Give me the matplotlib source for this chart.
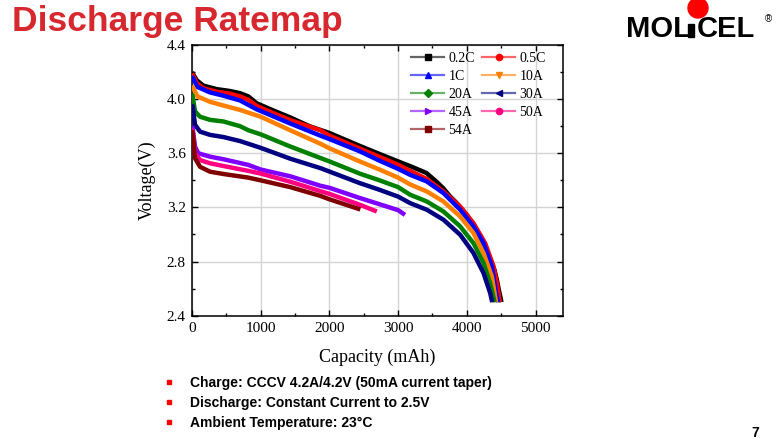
import matplotlib
matplotlib.use("Agg")
import matplotlib.pyplot as plt
from matplotlib.colors import to_rgba
from matplotlib.lines import Line2D
from matplotlib.patches import Circle, Rectangle
from matplotlib.ticker import MultipleLocator

# ---------------------------------------------------------------------------
# Global style
# ---------------------------------------------------------------------------
plt.rcParams.update({
    "font.family":       "serif",
    "font.serif":        ["Liberation Serif", "DejaVu Serif"],
    "font.size":         11,
    "axes.linewidth":    1.1,
    "xtick.direction":   "in",
    "ytick.direction":   "in",
    "xtick.top":         True,
    "ytick.right":       True,
    "xtick.major.size":  4,
    "ytick.major.size":  4,
    "xtick.minor.size":  2.5,
    "ytick.minor.size":  2.5,
    "xtick.major.width": 1.0,
    "ytick.major.width": 1.0,
    "xtick.minor.width": 1.0,
    "ytick.minor.width": 1.0,
    "xtick.major.pad":   4.5,
    "ytick.major.pad":   4.5,
})

SANS = "Liberation Sans"
TITLE_RED = "#D7282F"

# ---------------------------------------------------------------------------
# Data
# ---------------------------------------------------------------------------
labels = ["0.2C", "0.5C", "1C", "10A", "20A", "30A", "45A", "50A", "54A"]
colors = ["#000000", "#FF0000", "#0000FF", "#FF8000", "#008000",
          "#000080", "#8000FF", "#FF0080", "#800000"]
markers = ["s", "o", "^", "v", "D", "<", ">", "o", "s"]

cap_02c = [0, 10, 68, 165, 360, 554, 700, 821, 940, 1190, 1430, 1710, 2000,
           2440, 2730, 3000, 3200, 3410, 3560, 3660, 3750, 3854, 4000, 4146,
           4275, 4364, 4404, 4437, 4476, 4505]
volt_02c = [4.20, 4.19, 4.14, 4.10, 4.074, 4.06, 4.044, 4.02, 3.97, 3.915, 3.865,
            3.80, 3.75, 3.655, 3.595, 3.54, 3.50, 3.455, 3.39, 3.34, 3.285, 3.232,
            3.145, 3.025, 2.90, 2.79, 2.735, 2.666, 2.567, 2.50]

cap_05c = [0, 10, 68, 165, 360, 554, 700, 821, 940, 1190, 1430, 1870, 2000,
           2440, 3000, 3174, 3417, 3660, 3903, 4097, 4267, 4389, 4447, 4480]
volt_05c = [4.19, 4.18, 4.12, 4.08, 4.055, 4.04, 4.02, 3.995, 3.95, 3.895, 3.845,
            3.77, 3.73, 3.635, 3.515, 3.47, 3.41, 3.318, 3.207, 3.084, 2.936,
            2.764, 2.616, 2.50]

cap_1c = [0, 10, 80, 260, 460, 700, 940, 1430, 1870, 2000, 2440, 2730, 3000,
          3174, 3417, 3660, 3903, 4097, 4243, 4364, 4427, 4455]
volt_1c = [4.17, 4.16, 4.09, 4.05, 4.025, 3.99, 3.925, 3.82, 3.73, 3.705, 3.615,
           3.545, 3.485, 3.441, 3.392, 3.306, 3.183, 3.06, 2.936, 2.764, 2.567, 2.50]

cap_10a = [0, 10, 80, 263, 457, 700, 1000, 1430, 1870, 2000, 2440, 2730, 3000,
           3174, 3417, 3660, 3903, 4097, 4243, 4364, 4400, 4425]
volt_10a = [4.10, 4.09, 4.02, 3.98, 3.953, 3.92, 3.87, 3.77, 3.67, 3.637, 3.54,
            3.48, 3.42, 3.37, 3.318, 3.244, 3.133, 3.01, 2.863, 2.69, 2.58, 2.50]

cap_20a = [0, 10, 44, 117, 262, 457, 700, 821, 1000, 1430, 1870, 2000, 2440,
           2730, 3000, 3174, 3417, 3660, 3903, 4097, 4243, 4340, 4405]
volt_20a = [4.04, 4.02, 3.91, 3.87, 3.847, 3.835, 3.80, 3.77, 3.74, 3.65, 3.565,
            3.54, 3.45, 3.40, 3.35, 3.294, 3.244, 3.17, 3.06, 2.936, 2.79, 2.64, 2.50]

cap_30a = [0, 10, 44, 117, 262, 457, 700, 821, 1000, 1430, 1870, 2000, 2440,
           2730, 3000, 3174, 3417, 3660, 3903, 4097, 4243, 4340, 4370]
volt_30a = [3.96, 3.946, 3.81, 3.76, 3.736, 3.72, 3.69, 3.67, 3.64, 3.56, 3.49,
            3.465, 3.38, 3.33, 3.28, 3.232, 3.183, 3.109, 2.998, 2.863, 2.715,
            2.567, 2.50]

cap_45a = [0, 10, 44, 92, 262, 457, 821, 1000, 1430, 1870, 2000, 2440, 3000, 3100]
volt_45a = [3.80, 3.785, 3.65, 3.60, 3.575, 3.556, 3.514, 3.48, 3.43, 3.36, 3.345,
            3.27, 3.18, 3.145]

cap_50a = [0, 10, 44, 117, 262, 457, 821, 1000, 1430, 1870, 2000, 2440, 2690]
volt_50a = [3.78, 3.76, 3.60, 3.55, 3.526, 3.506, 3.47, 3.45, 3.39, 3.32, 3.30,
            3.22, 3.17]

cap_54a = [0, 10, 44, 117, 262, 457, 821, 1000, 1430, 1870, 2000, 2450]
volt_54a = [3.77, 3.75, 3.563, 3.50, 3.464, 3.447, 3.42, 3.40, 3.35, 3.285, 3.26,
            3.185]

capacities = [cap_02c, cap_05c, cap_1c, cap_10a, cap_20a,
              cap_30a, cap_45a, cap_50a, cap_54a]
voltages = [volt_02c, volt_05c, volt_1c, volt_10a, volt_20a,
            volt_30a, volt_45a, volt_50a, volt_54a]

notes = [
    "Charge: CCCV 4.2A/4.2V (50mA current taper)",
    "Discharge: Constant Current to 2.5V",
    "Ambient Temperature: 23\u00b0C",
]

# ---------------------------------------------------------------------------
# Page (slide) layer, in pixel units
# ---------------------------------------------------------------------------
fig = plt.figure(figsize=(7.81, 4.41), dpi=100, facecolor="white")
page = fig.add_axes([0, 0, 1, 1])
page.set_xlim(0, 781)
page.set_ylim(441, 0)
page.axis("off")

page.text(12, 31, "Discharge Ratemap", family=SANS, weight="bold", size=25.5,
          color=TITLE_RED, ha="left", va="baseline")

# logo
page.text(626, 37, "MOL", family=SANS, weight="bold", size=21,
          ha="left", va="baseline")
page.add_patch(Rectangle((688, 24), 6, 13, color="black"))
page.add_patch(Circle((698, 8), 10, color="#FF0000"))
page.text(697, 37, "CEL", family=SANS, weight="bold", size=21,
          ha="left", va="baseline")
page.text(765, 22, "\u00ae", family=SANS, size=7, ha="left", va="baseline")

for i, note in enumerate(notes):
    y = 382 + 20 * i
    page.add_patch(Rectangle((167, y - 2), 4, 4, color="#FF0000"))
    page.text(190, y + 5, note, family=SANS, weight="bold", size=10,
              ha="left", va="baseline")

page.text(755, 437, "7", family=SANS, weight="bold", size=10,
          ha="center", va="baseline")

# ---------------------------------------------------------------------------
# Chart
# ---------------------------------------------------------------------------
ax = fig.add_axes([192 / 781, (441 - 315.7) / 441,
                   (563 - 192) / 781, (315.7 - 45) / 441])

for cap, volt, col in zip(capacities, voltages, colors):
    ax.plot(cap, volt, color=col, lw=3.2, solid_capstyle="butt",
            solid_joinstyle="round", zorder=3)

ax.set_xlim(0, 5400)
ax.set_ylim(2.4, 4.4)
ax.xaxis.set_major_locator(MultipleLocator(1000))
ax.xaxis.set_minor_locator(MultipleLocator(500))
ax.yaxis.set_major_locator(MultipleLocator(0.4))
ax.yaxis.set_minor_locator(MultipleLocator(0.2))
ax.tick_params(which="both", top=True, right=True)
ax.grid(True, which="major", color="#d4d4d4", lw=1.0)
ax.set_axisbelow(True)

ax.set_xlabel("Capacity (mAh)", fontsize=13, labelpad=10)
ax.set_ylabel("Voltage(V)", fontsize=13, labelpad=8)

handles = []
for lab, col, mk in zip(labels, colors, markers):
    handles.append(Line2D([], [], color=to_rgba(col, 0.6), lw=1.6,
                          marker=mk, markersize=4.5,
                          markerfacecolor=col, markeredgecolor=col,
                          label=lab))
# matplotlib fills legend columns top-down; reorder to read row by row
order = [0, 2, 4, 6, 8, 1, 3, 5, 7]
ax.legend([handles[i] for i in order], [labels[i] for i in order],
          ncol=2, loc="upper left", bbox_to_anchor=(0.568, 1.005),
          frameon=False, fontsize=10, handlelength=2.4,
          handletextpad=0.3, columnspacing=0.5, labelspacing=0.36,
          borderpad=0.1)

plt.savefig("out.png", dpi=100, facecolor="white")
plt.close()
